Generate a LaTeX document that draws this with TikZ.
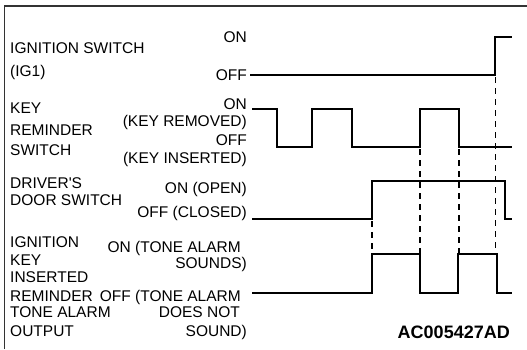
\documentclass[tikz,border=0pt]{standalone}
\usepackage{fontspec}
\setmainfont{Liberation Sans}
\newfontfamily\lsans{Liberation Sans}
\begin{document}
\begin{tikzpicture}[x=1pt,y=-1pt,
  lbl/.style={inner sep=0pt,anchor=base west,font=\lsans\fontsize{15.5}{18}\selectfont},
  rlbl/.style={inner sep=0pt,anchor=base east,font=\lsans\fontsize{15.5}{18}\selectfont},
  sig/.style={line width=1.8pt,line join=miter},
  dsh/.style={line width=1.5pt,dash pattern=on 6pt off 5pt},
  frame/.style={line width=1.3pt,black!80}]
\useasboundingbox (0,0) rectangle (527,349);
% frame
\draw[frame] (4.5,349) -- (4.5,6) -- (527,6);
% left labels
\node[lbl] (l1) at (10,53) {IGNITION SWITCH};
\node[lbl] (l2) at (10,76) {(IG1)};
\node[lbl] (l3) at (10,113) {KEY};
\node[lbl] (l4) at (10,135) {REMINDER};
\node[lbl] (l5) at (10,155) {SWITCH};
\node[lbl] (l6) at (10,188) {DRIVER'S};
\node[lbl] (l7) at (10,205) {DOOR SWITCH};
\node[lbl] (l8) at (10,247) {IGNITION};
\node[lbl] (l9) at (10,265) {KEY};
\node[lbl] (l10) at (10,282) {INSERTED};
\node[lbl] (l11) at (10,301) {REMINDER};
\node[lbl] (l12) at (10,317) {TONE ALARM};
\node[lbl] (l13) at (10,336) {OUTPUT};
% state labels
\node[rlbl] (s1) at (247,42) {ON};
\node[rlbl] (s2) at (247,80) {OFF};
\node[rlbl] (s3) at (247,109) {ON};
\node[rlbl] (s4) at (247,126) {(KEY REMOVED)};
\node[rlbl] (s5) at (247,145) {OFF};
\node[rlbl] (s6) at (247,163) {(KEY INSERTED)};
\node[rlbl] (s7) at (247,193) {ON (OPEN)};
\node[rlbl] (s8) at (247,217) {OFF (CLOSED)};
\node[rlbl] (s9) at (241,252) {ON (TONE ALARM};
\node[rlbl] (s10) at (247,268) {SOUNDS)};
\node[rlbl] (s11) at (241,301) {OFF (TONE ALARM};
\node[rlbl] (s12) at (240,317) {DOES NOT};
\node[rlbl] (s13) at (247,336) {SOUND)};
\node[inner sep=0pt,anchor=base east,font=\lsans\fontsize{18}{20}\selectfont\bfseries] (id) at (510,338) {AC005427AD};
% dashed timing lines
\draw[dsh] (372,221) -- (372,253);
\draw[dsh] (420,149) -- (420,253);
\draw[dsh] (459,149) -- (459,253);
\draw[dsh,line width=1pt] (495,77) -- (495,253);
% signals
\draw[sig] (250,75) -- (495,75) -- (495,37) -- (512,37);
\draw[sig] (252,109) -- (277,109) -- (277,147) -- (312,147) -- (312,109) -- (352,109) -- (352,147)
  -- (420,147) -- (420,109) -- (459,109) -- (459,147) -- (512,147);
\draw[sig] (252,219) -- (372,219) -- (372,181) -- (505,181) -- (505,219) -- (512,219);
\draw[sig] (252,293) -- (372,293) -- (372,254) -- (420,254) -- (420,293) -- (458,293) -- (458,254)
  -- (497,254) -- (497,293) -- (512,293);
\end{tikzpicture}
\end{document}
